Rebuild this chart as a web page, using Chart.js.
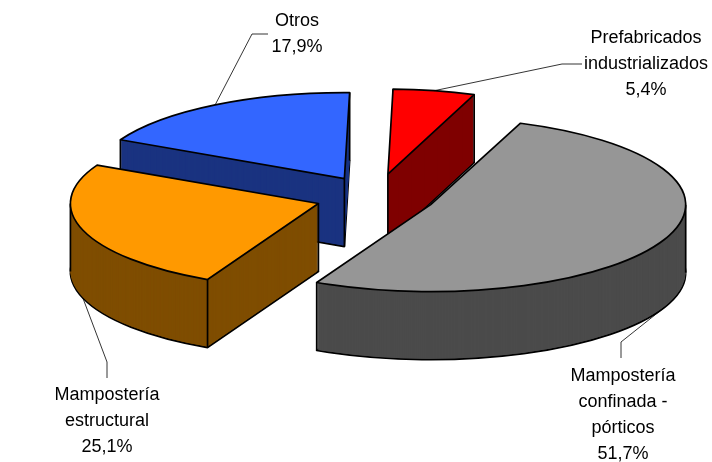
<!DOCTYPE html>
<html>
<head>
<meta charset="utf-8">
<style>
  html, body { margin: 0; padding: 0; background: #fff; }
  canvas { display: block; }
</style>
<script src="https://cdn.jsdelivr.net/npm/chart.js@4"></script>
</head>
<body>
<canvas id="pie" width="712" height="462"></canvas>
<script>
// Data
const categories = ["Prefabricados industrializados", "Mampostería confinada - pórticos", "Mampostería estructural", "Otros"];
const values = [5.4, 51.7, 25.1, 17.9];
const labelLines = [["Prefabricados", "industrializados"], ["Mampostería", "confinada -", "pórticos"], ["Mampostería", "estructural"], ["Otros"]];
const topColors = ["#ff0000", "#969696", "#ff9900", "#3366ff"];
const sideColors = ["#7f0000", "#4b4b4b", "#7f4d00", "#1a3380"];

// Look of the tilted pie, in screen pixels
const center = {x: 373, y: 196};
const explode = 57.5;
const tilt = 1 / 3;
const depth = 68;
const backToFront = [0, 3, 2, 1];
// the perspective makes each slice a little different
const sliceLook = [
    {dx: 4, dy: -3, rx: 245, ry: 85},
    {dx: 5, dy: 1, rx: 255, ry: 87},
    {dx: 0, dy: 1.5, rx: 248, ry: 85},
    {dx: 1, dy: -1, rx: 251, ry: 86}
];

// Label blocks: centre x, first baseline, and the elbow of the leader line
const labelPos = [
    {x: 646, y: 43, elbow: [562, 64], end: [582, 64]},
    {x: 623, y: 381, elbow: [621, 342], end: [621, 358]},
    {x: 107, y: 400, elbow: [107, 362], end: [107, 378]},
    {x: 297, y: 26, elbow: [252, 34], end: [268, 34]}
];

const pctText = v => v.toFixed(1).replace('.', ',') + '%';

// moves the context so one slice lands where it belongs on the tilted pie
function place(ctx, arc, i, down) {
    const mid = (arc.startAngle + arc.endAngle) / 2;
    const look = sliceLook[i];
    ctx.setTransform(1, 0, 0, 1, 0, 0);
    ctx.translate(center.x + look.dx + Math.cos(mid) * explode, center.y + look.dy + Math.sin(mid) * explode * tilt + down);
    ctx.scale(look.rx / arc.outerRadius, look.ry / arc.outerRadius);
    ctx.translate(-arc.x, -arc.y);
}

// screen position of a point on the rim (or the apex if onRim is false)
function screenPoint(ctx, arc, i, angle, onRim) {
    place(ctx, arc, i, 0);
    const r = onRim ? arc.outerRadius : 0;
    const p = ctx.getTransform().transformPoint({x: arc.x + Math.cos(angle) * r, y: arc.y + Math.sin(angle) * r});
    return [p.x, p.y];
}

function verticalEdges(ctx, arc, i) {
    const pts = [screenPoint(ctx, arc, i, 0, false), screenPoint(ctx, arc, i, arc.startAngle, true), screenPoint(ctx, arc, i, arc.endAngle, true)];
    // silhouette of the rim at far left and far right
    for (let a = -2 * Math.PI; a <= 4 * Math.PI; a += Math.PI) {
        if (a > arc.startAngle && a < arc.endAngle) pts.push(screenPoint(ctx, arc, i, a, true));
    }
    ctx.setTransform(1, 0, 0, 1, 0, 0);
    ctx.strokeStyle = '#000';
    ctx.lineWidth = 1.7;
    pts.forEach(p => {
        ctx.beginPath();
        ctx.moveTo(p[0], p[1]);
        ctx.lineTo(p[0], p[1] + depth);
        ctx.stroke();
    });
}

const tiltedPie = {
    id: 'tiltedPie',
    beforeDatasetDraw(chart, args) {
        const ctx = chart.ctx;
        const arcs = args.meta.data;
        const realStroke = ctx.stroke;
        // outlines keep an even width under the squashed transform
        const evenStroke = function () {
            ctx.save();
            ctx.setTransform(1, 0, 0, 1, 0, 0);
            realStroke.call(ctx);
            ctx.restore();
        };
        ctx.save();
        backToFront.forEach(i => {
            const arc = arcs[i];
            const opts = arc.options;
            ctx.stroke = evenStroke;
            place(ctx, arc, i, depth);
            arc.options = {...opts, backgroundColor: sideColors[i]};
            arc.draw(ctx);
            arc.options = {...opts, backgroundColor: sideColors[i], borderWidth: 0};
            for (let d = depth - 1; d > 0; d--) {
                place(ctx, arc, i, d);
                arc.draw(ctx);
            }
            arc.options = opts;
            delete ctx.stroke;
            verticalEdges(ctx, arc, i);
        });
        ctx.stroke = evenStroke;
        backToFront.forEach(i => {
            place(ctx, arcs[i], i, 0);
            arcs[i].draw(ctx);
        });
        delete ctx.stroke;
        ctx.restore();
        return false;
    },
    afterDraw(chart) {
        const ctx = chart.ctx;
        const arcs = chart.getDatasetMeta(0).data;
        ctx.save();
        arcs.forEach((arc, i) => {
            const pos = labelPos[i];
            const mid = (arc.startAngle + arc.endAngle) / 2;
            const p = screenPoint(ctx, arc, i, mid, true);
            ctx.setTransform(1, 0, 0, 1, 0, 0);
            // front slices are labelled from the bottom of their rim
            const y = Math.sin(mid) > 0 ? p[1] + depth : p[1];
            ctx.strokeStyle = '#000';
            ctx.lineWidth = 0.8;
            ctx.beginPath();
            ctx.moveTo(p[0], y);
            ctx.lineTo(pos.elbow[0], pos.elbow[1]);
            ctx.lineTo(pos.end[0], pos.end[1]);
            ctx.stroke();

            ctx.fillStyle = '#000';
            ctx.font = '18px "Liberation Sans", Arial, sans-serif';
            ctx.textAlign = 'center';
            ctx.textBaseline = 'alphabetic';
            labelLines[i].concat(pctText(values[i])).forEach((line, n) => {
                ctx.fillText(line, pos.x, pos.y + n * 26);
            });
        });
        ctx.restore();
    }
};

new Chart(document.getElementById('pie').getContext('2d'), {
    type: 'pie',
    data: {
        labels: categories,
        datasets: [{
            data: values,
            backgroundColor: topColors,
            borderColor: '#000',
            borderWidth: 1.7,
            borderJoinStyle: 'round',
            clip: false
        }]
    },
    options: {
        responsive: false,
        animation: false,
        rotation: 1.2,
        plugins: {legend: {display: false}, tooltip: {enabled: false}}
    },
    plugins: [tiltedPie]
});
</script>
</body>
</html>
